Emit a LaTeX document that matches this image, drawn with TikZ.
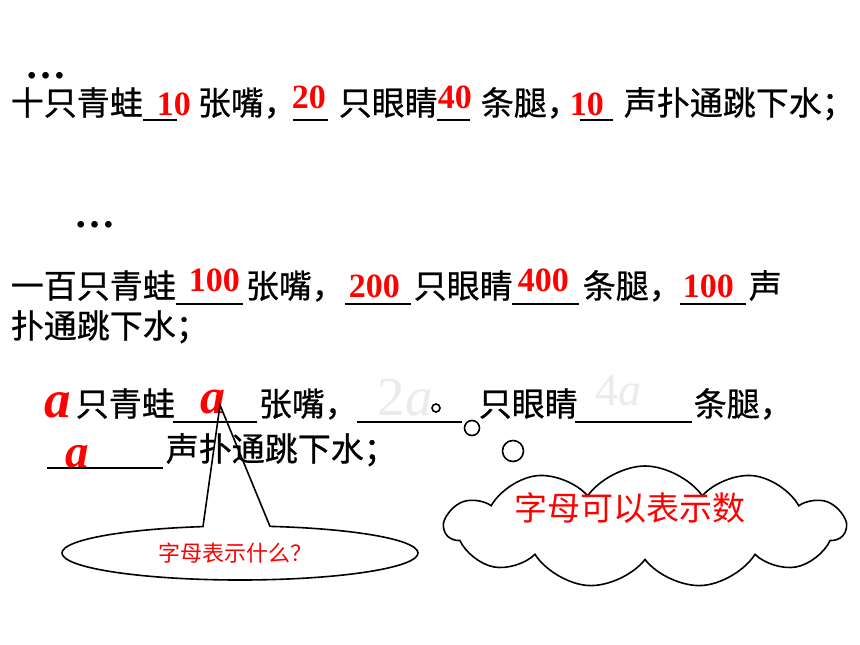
\documentclass[tikz,border=0pt]{standalone}
\usepackage{fontspec}
\setmainfont{Liberation Serif}
\newfontfamily\cjk{Noto Sans CJK SC}[FakeBold=0.7]
\newfontfamily\cjklight{Noto Sans CJK SC}
\usetikzlibrary{shapes.symbols}

\begin{document}
\begin{tikzpicture}[x=1pt,y=-1pt,line width=1.6pt]
    \tikzstyle{word}=[anchor=base west,inner sep=0pt,font=\cjk\fontsize{33}{33}\selectfont]
    \tikzstyle{answer}=[anchor=base west,inner sep=0pt,text=red,font=\bfseries\fontsize{34}{34}\selectfont]
    \tikzstyle{letter}=[anchor=base west,inner sep=0pt,text=red,font=\bfseries\itshape\fontsize{50}{50}\selectfont]
    \tikzstyle{ghost}=[anchor=base west,inner sep=0pt,text=black!8]
    \tikzstyle{dotrow}=[anchor=base west,inner sep=0pt,font=\bfseries\fontsize{41}{41}\selectfont]
    \tikzstyle{bubble}=[circle,draw=black,fill=white,inner sep=0pt]
    \useasboundingbox[fill=white] (0,0) rectangle (860,645);

    \foreach \num/\x/\y in {1/25/78, 2/74/227}
        \node[dotrow] (D-\num) at (\x,\y) {…};

    \foreach \num/\x/\t in {1/10/十只青蛙, 2/197/张嘴，, 3/338/只眼睛, 4/480/条腿，, 5/623/声扑通跳下水；}
        \node[word] (A-\num) at (\x,115) {\t};
    \foreach \num/\x/\t in {1/10/一百只青蛙, 2/245/张嘴，, 3/413/只眼睛, 4/582/条腿，, 5/748/声}
        \node[word] (B-\num) at (\x,298) {\t};
    \node[word] (B-6) at (10,338) {扑通跳下水；};
    \foreach \num/\x/\t in {1/75/只青蛙, 2/258/张嘴，, 3/478/只眼睛, 4/693/条腿，}
        \node[word] (C-\num) at (\x,416) {\t};
    \node[word] (C-5) at (165,461) {声扑通跳下水；};

    \foreach \a/\b/\y in {143/177/120, 293/328/120, 437/470/120, 580/613/120,
                          176/243/304, 345/411/304, 512/579/304, 680/746/304,
                          173/257/422, 357/462/422, 575/692/422, 47/163/468}
        \draw (\a,\y) -- (\b,\y);

    \foreach \num/\x/\y/\t in {1/156/115/10, 2/291/108/20, 3/437/108/40, 4/569/115/10,
                               5/188/291/100, 6/348/297/200, 7/517/291/400, 8/682/297/100}
        \node[answer] (N-\num) at (\x,\y) {\t};

    \node[letter,font=\bfseries\itshape\fontsize{53}{53}\selectfont] (L-1) at (44,417) {a};
    \node[letter] (L-2) at (200,413) {a};
    \node[letter,font=\bfseries\itshape\fontsize{47}{47}\selectfont] (L-3) at (65,467) {a};

    \node[ghost,font=\fontsize{55}{55}\selectfont] (G-1) at (377,415) {2\itshape a};
    \node[ghost,font=\fontsize{46}{46}\selectfont] (G-2) at (595,405) {4\itshape a};

    \foreach \num/\x/\y/\d in {1/436/408/8, 2/472/428/15, 3/513/451/21}
        \node[bubble,minimum size=\d pt] (O-\num) at (\x,\y) {};

    \node[cloud,draw=black,cloud puffs=11,cloud puff arc=110,aspect=3.2,
          minimum width=400pt,minimum height=122pt,inner sep=0pt] (Cl) at (645,527) {};
    \node[text=red,font=\cjklight\fontsize{33}{33}\selectfont] (Cl-t) at (630,508) {字母可以表示数};

    \coordinate (E) at (240,553);
    \coordinate (tip) at (220,405);
    \draw (E) ++(-102:178 and 27) arc[start angle=-102,end angle=-440.3,x radius=178,y radius=27] -- (tip) -- cycle;
    \node[text=red,font=\cjklight\fontsize{22}{22}\selectfont] (Q) at (235,553) {字母表示什么？};
\end{tikzpicture}
\end{document}
